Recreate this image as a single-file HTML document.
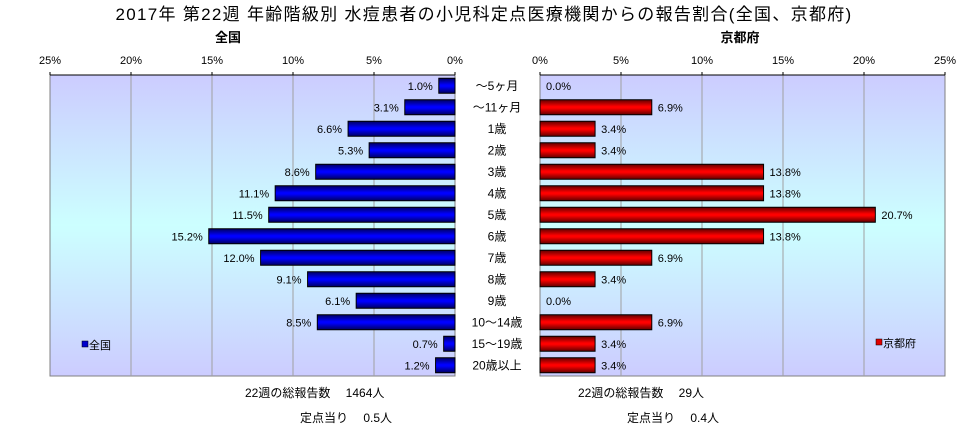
<!DOCTYPE html>
<html><head><meta charset="utf-8"><style>
body{margin:0;background:#fff}
svg{display:block;font-family:"Liberation Sans","Noto Sans CJK JP",sans-serif}
</style></head><body>
<svg id="c" width="968" height="432" xmlns="http://www.w3.org/2000/svg">
<defs>
<linearGradient id="bg" x1="0" y1="0" x2="0" y2="1">
<stop offset="0" stop-color="#ccccff"/><stop offset="0.5" stop-color="#ccffff"/><stop offset="1" stop-color="#ccccff"/></linearGradient>
<linearGradient id="gb" x1="0" y1="0" x2="0" y2="1">
<stop offset="0" stop-color="#000060"/><stop offset="0.45" stop-color="#0000ff"/><stop offset="0.55" stop-color="#0000ff"/><stop offset="1" stop-color="#000060"/></linearGradient>
<linearGradient id="gr" x1="0" y1="0" x2="0" y2="1">
<stop offset="0" stop-color="#600000"/><stop offset="0.45" stop-color="#ff0000"/><stop offset="0.55" stop-color="#ff0000"/><stop offset="1" stop-color="#600000"/></linearGradient>
</defs>
<text x="484" y="20" font-size="17" letter-spacing="1.3" text-anchor="middle">2017年 第22週 年齢階級別 水痘患者の小児科定点医療機関からの報告割合(全国、京都府)</text>
<text x="228" y="42" font-size="13" font-weight="bold" text-anchor="middle">全国</text>
<text x="740" y="42" font-size="13" font-weight="bold" text-anchor="middle">京都府</text>
<g id="g"></g>
<rect x="82" y="341" width="6" height="6" fill="#0000cc" stroke="#000" stroke-width="0.5"/>
<text x="89" y="349" font-size="11">全国</text>
<rect x="876" y="339" width="6" height="6" fill="#e00000" stroke="#000" stroke-width="0.5"/>
<text x="883" y="347" font-size="11">京都府</text>
<text x="245" y="397" font-size="12">22週の総報告数　 1464人</text>
<text x="300" y="422" font-size="12">定点当り　 0.5人</text>
<text x="578" y="397" font-size="12">22週の総報告数　 29人</text>
<text x="627" y="422" font-size="12">定点当り　 0.4人</text>
</svg>
<script>
const categories=["～5ヶ月","～11ヶ月","1歳","2歳","3歳","4歳","5歳","6歳","7歳","8歳","9歳","10～14歳","15～19歳","20歳以上"];
const national=[1.0,3.1,6.6,5.3,8.6,11.1,11.5,15.2,12.0,9.1,6.1,8.5,0.7,1.2];
const kyoto=[0.0,6.9,3.4,3.4,13.8,13.8,20.7,13.8,6.9,3.4,0.0,6.9,3.4,3.4];
const ticks=[0,5,10,15,20,25];
(function(){
const NS="http://www.w3.org/2000/svg",grp=document.getElementById('g');
const plotTop=75,rowH=21.5,plotBottom=plotTop+rowH*categories.length,W=405;
const L0=455,R0=540;
function xl(v){return L0-v/25*W}
function xr(v){return R0+v/25*W}
function mk(t,a){const e=document.createElementNS(NS,t);for(const k in a)e.setAttribute(k,a[k]);grp.appendChild(e);return e}
function txt(x,y,s,anc,size){const e=mk('text',{x:x,y:y,'font-size':size||11,'text-anchor':anc});e.textContent=s;return e}
let e=mk('rect',{x:xl(25),y:plotTop,width:W,height:plotBottom-plotTop,fill:'url(#bg)',stroke:'#808080'});


e=mk('rect',{x:R0,y:plotTop,width:W,height:plotBottom-plotTop,fill:'url(#bg)',stroke:'#808080'});


ticks.forEach(t=>{
  if(t>0&&t<25){mk('line',{x1:xl(t),x2:xl(t),y1:plotTop,y2:plotBottom,stroke:'#a0a0a0'});mk('line',{x1:xr(t),x2:xr(t),y1:plotTop,y2:plotBottom,stroke:'#a0a0a0'});}
  mk('line',{x1:xl(t),x2:xl(t),y1:plotTop-3,y2:plotTop,stroke:'#000'});
  mk('line',{x1:xr(t),x2:xr(t),y1:plotTop-3,y2:plotTop,stroke:'#000'});
  e=txt(xl(t),64,t+'%','middle',11);
  
  
  e=txt(xr(t),64,t+'%','middle',11);
  
  
});
mk('line',{x1:xl(25),x2:L0,y1:plotTop,y2:plotTop,stroke:'#000'});
mk('line',{x1:R0,x2:xr(25),y1:plotTop,y2:plotTop,stroke:'#000'});
categories.forEach((c,i)=>{
  const cy=plotTop+rowH*(i+0.5);
  e=txt(497,cy+4,c,'middle',12);
  
  
  const v=national[i];
  e=mk('rect',{x:xl(v),y:cy-7.5,width:L0-xl(v),height:15,fill:'url(#gb)',stroke:'#000','stroke-width':1});
  
  
  e=txt(xl(v)-6,cy+4,v.toFixed(1)+'%','end',11);
  
  
  const k=kyoto[i];
  if(k>0){e=mk('rect',{x:R0,y:cy-7.5,width:xr(k)-R0,height:15,fill:'url(#gr)',stroke:'#000','stroke-width':1});
  
  }
  e=txt(xr(k)+6,cy+4,k.toFixed(1)+'%','start',11);
  
  
});
})();
</script>
</body></html>
